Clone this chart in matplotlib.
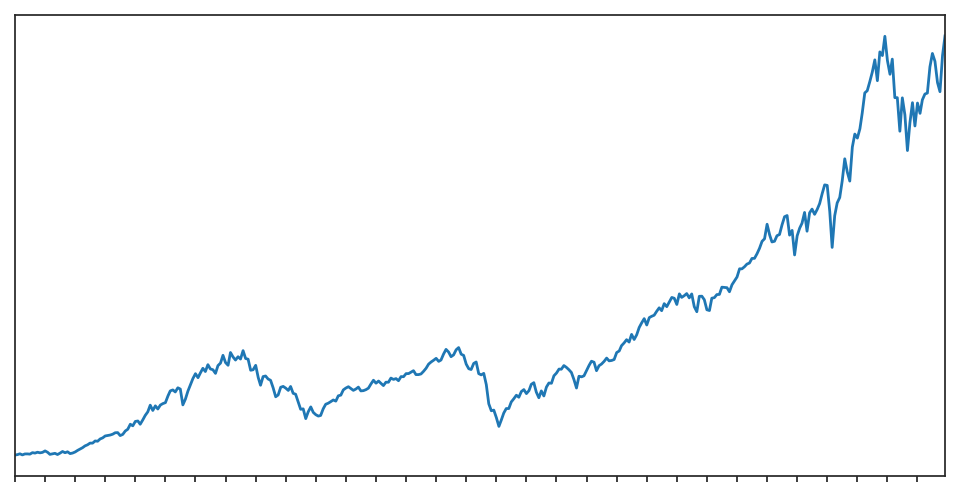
import matplotlib
matplotlib.use("Agg")
import matplotlib.pyplot as plt
import pandas as pd

# S&P 500, cierre mensual, ene 1993 - dic 2023
mes_inicio = "1993-01-01"
cierre = [
    438.78, 443.38, 451.67, 440.19, 450.19, 450.53, 448.13, 463.56, 458.93, 467.83, 461.79, 466.45,
    481.61, 467.14, 445.77, 450.91, 456.50, 444.27, 458.26, 475.49, 462.69, 472.35, 453.69, 459.27,
    470.42, 487.39, 500.71, 514.71, 533.40, 544.75, 562.06, 561.88, 584.41, 581.50, 605.37, 615.93,
    636.02, 640.43, 645.50, 654.17, 669.12, 670.63, 639.95, 651.99, 687.31, 705.27, 757.02, 740.74,
    786.16, 790.82, 757.12, 801.34, 848.28, 885.14, 954.29, 899.47, 947.28, 914.62, 955.40, 970.43,
    980.28, 1049.34, 1101.75, 1111.75, 1090.82, 1133.84, 1120.67, 957.28, 1017.01, 1098.67, 1163.63, 1229.23,
    1279.64, 1238.33, 1286.37, 1335.18, 1301.84, 1372.71, 1328.72, 1320.41, 1282.71, 1362.93, 1388.91, 1469.25,
    1394.46, 1366.42, 1498.58, 1452.43, 1420.60, 1454.60, 1430.83, 1517.68, 1436.51, 1429.40, 1314.95, 1320.28,
    1366.01, 1239.94, 1160.33, 1249.46, 1255.82, 1224.42, 1211.23, 1133.58, 1040.94, 1059.78, 1139.45, 1148.08,
    1130.20, 1106.73, 1147.39, 1076.92, 1067.14, 989.82, 911.62, 916.07, 815.28, 885.76, 936.31, 879.82,
    855.70, 841.15, 848.18, 916.92, 963.59, 974.50, 990.31, 1008.01, 995.97, 1050.71, 1058.20, 1111.92,
    1131.13, 1144.94, 1126.21, 1107.30, 1120.68, 1140.84, 1101.72, 1104.24, 1114.58, 1130.20, 1173.82, 1211.92,
    1181.27, 1203.60, 1180.59, 1156.85, 1191.50, 1191.33, 1234.18, 1220.33, 1228.81, 1207.01, 1249.48, 1248.29,
    1280.08, 1280.66, 1294.83, 1310.61, 1270.09, 1270.20, 1276.66, 1303.82, 1335.85, 1377.94, 1400.63, 1418.30,
    1438.24, 1406.82, 1420.86, 1482.37, 1530.62, 1503.35, 1455.27, 1473.99, 1526.75, 1549.38, 1481.14, 1468.36,
    1378.55, 1330.63, 1322.70, 1385.59, 1400.38, 1280.00, 1267.38, 1282.83, 1166.36, 968.75, 896.24, 903.25,
    825.88, 735.09, 797.87, 872.81, 919.14, 919.32, 987.48, 1020.62, 1057.08, 1036.19, 1095.63, 1115.10,
    1073.87, 1104.49, 1169.43, 1186.69, 1089.41, 1030.71, 1101.60, 1049.33, 1141.20, 1183.26, 1180.55, 1257.64,
    1286.12, 1327.22, 1325.83, 1363.61, 1345.20, 1320.64, 1292.28, 1218.89, 1131.42, 1253.30, 1246.96, 1257.60,
    1312.41, 1365.68, 1408.47, 1397.91, 1310.33, 1362.16, 1379.32, 1406.58, 1440.67, 1412.16, 1416.18, 1426.19,
    1498.11, 1514.68, 1569.19, 1597.57, 1630.74, 1606.28, 1685.73, 1632.97, 1681.55, 1756.54, 1805.81, 1848.36,
    1782.59, 1859.45, 1872.34, 1883.95, 1923.57, 1960.23, 1930.67, 2003.37, 1972.29, 2018.05, 2067.56, 2058.90,
    1994.99, 2104.50, 2067.89, 2085.51, 2107.39, 2063.11, 2103.84, 1972.18, 1920.03, 2079.36, 2080.41, 2043.94,
    1940.24, 1932.23, 2059.74, 2065.30, 2096.95, 2098.86, 2173.60, 2170.95, 2168.27, 2126.15, 2198.81, 2238.83,
    2278.87, 2363.64, 2362.72, 2384.20, 2411.80, 2423.41, 2470.30, 2471.65, 2519.36, 2575.26, 2647.58, 2673.61,
    2823.81, 2713.83, 2640.87, 2648.05, 2705.27, 2718.37, 2816.29, 2901.52, 2913.98, 2711.74, 2760.17, 2506.85,
    2704.10, 2784.49, 2834.40, 2945.83, 2752.06, 2941.76, 2980.38, 2926.46, 2976.74, 3037.56, 3140.98, 3230.78,
    3225.52, 2954.22, 2584.59, 2912.43, 3044.31, 3100.29, 3271.12, 3500.31, 3363.00, 3269.96, 3621.63, 3756.07,
    3714.24, 3811.15, 3972.89, 4181.17, 4204.11, 4297.50, 4395.26, 4522.68, 4307.54, 4605.38, 4567.00, 4766.18,
    4515.55, 4373.94, 4530.41, 4131.93, 4132.15, 3785.38, 4130.29, 3955.00, 3585.62, 3871.98, 4080.11, 3839.50,
    4076.60, 3970.15, 4109.31, 4169.48, 4179.83, 4450.38, 4588.96, 4507.66, 4288.05, 4193.80, 4567.80, 4769.83,
]

fechas = pd.date_range(mes_inicio, periods=len(cierre), freq="MS")
serie = pd.Series(cierre, index=fechas)

fig = plt.figure(figsize=(9.6, 4.96), dpi=100)
ax = fig.add_axes([15 / 960, 20 / 496, 930 / 960, 461 / 496])

ax.plot(serie.index, serie.values, color="#1f77b4", linewidth=2.0)
ax.set_xlim(serie.index[0], serie.index[-1])
ax.margins(y=0.05)

# Marcas de año sin etiquetas
anios = pd.date_range("1993-01-01", "2023-01-01", freq="YS")
ax.set_xticks(anios)
ax.set_xticklabels([])
ax.set_yticks([])
ax.tick_params(axis="x", length=4, width=1.25, color="#262626", direction="out")

for lado in ax.spines.values():
    lado.set_color("#262626")
    lado.set_linewidth(1.25)

fig.savefig("out.png", dpi=100)
